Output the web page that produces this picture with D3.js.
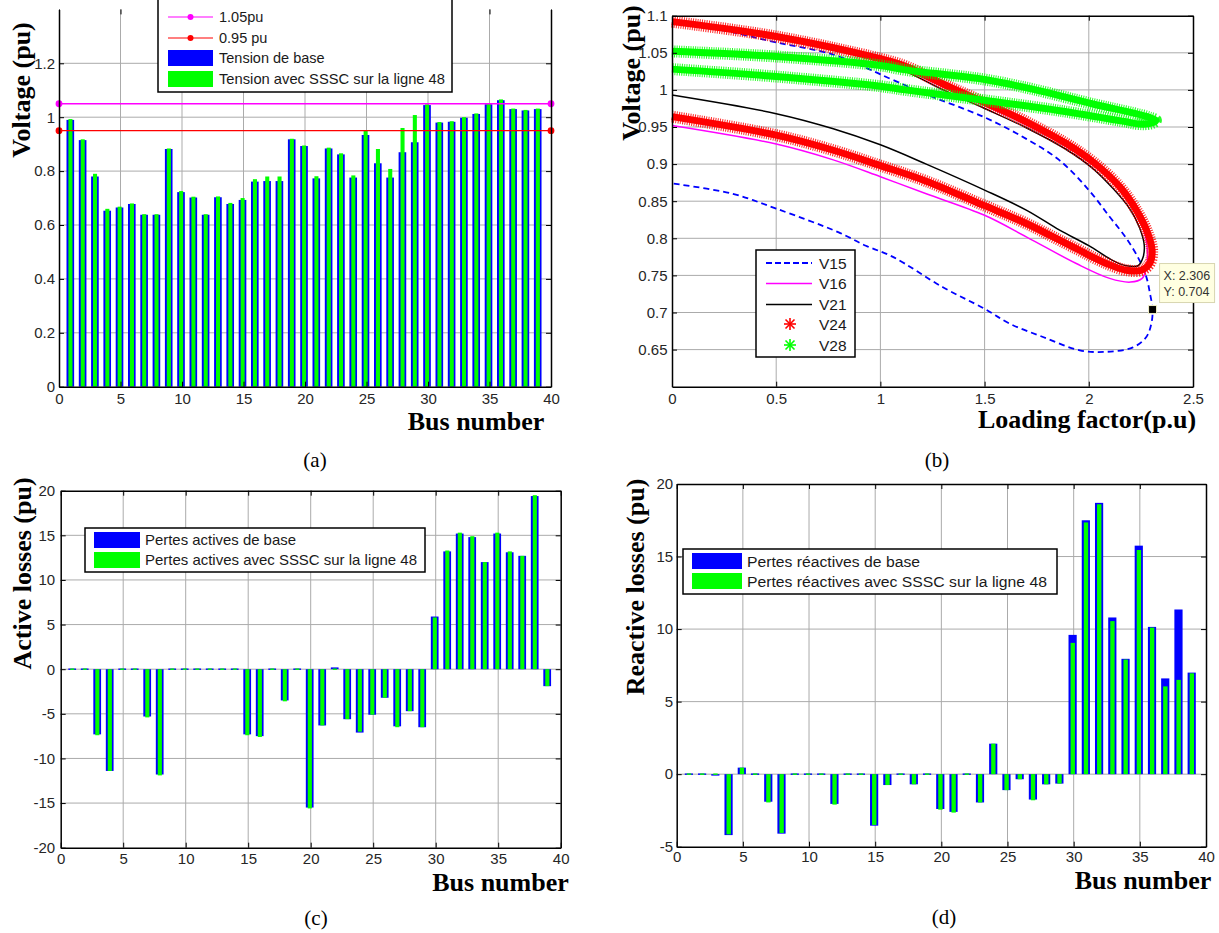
<!DOCTYPE html>
<html>
<head>
<meta charset="utf-8">
<script src="https://cdn.jsdelivr.net/npm/d3@7"></script>
<style>
  body { margin: 0; background: #fff; }
  svg { display: block; }
  text { font-family: "Liberation Sans", Arial, sans-serif; }
  .axlab { font-family: "Liberation Serif", "Times New Roman", serif; font-weight: bold; font-size: 26px; fill: #000; }
  .cap { font-family: "Liberation Serif", "Times New Roman", serif; font-size: 21px; fill: #000; }
</style>
</head>
<body>
<svg id="fig" width="1219" height="933"></svg>
<script>
// ---------- data ----------
const buses = [1,2,3,4,5,6,7,8,9,10,11,12,13,14,15,16,17,18,19,20,21,22,23,24,25,26,27,28,29,30,31,32,33,34,35,36,37,38,39];

// (a) bus voltages (pu)
const voltageBase = [0.99,0.915,0.78,0.653,0.665,0.678,0.638,0.638,0.882,0.722,0.702,0.638,0.703,0.678,0.693,0.761,0.763,0.763,0.918,0.893,0.773,0.884,0.862,0.776,0.934,0.829,0.776,0.87,0.907,1.045,0.98,0.983,0.998,1.012,1.048,1.063,1.03,1.025,1.03];
const voltageSSSC = [0.993,0.918,0.79,0.66,0.668,0.68,0.64,0.64,0.884,0.726,0.705,0.64,0.706,0.682,0.70,0.77,0.78,0.78,0.92,0.895,0.781,0.887,0.866,0.784,0.952,0.882,0.808,0.96,1.008,1.048,0.982,0.985,1.0,1.014,1.05,1.066,1.032,1.027,1.032];
const limitHigh = 1.05;
const limitLow = 0.95;

// (c) active losses (pu)
const activeBase = [0,0.15,-7.3,-11.4,0,0.05,-5.3,-11.8,0.05,0.05,0.15,-0.15,0.1,0.1,-7.3,-7.5,0.15,-3.5,0,-15.5,-6.3,0.2,-5.6,-7.1,-5.1,-3.2,-6.4,-4.7,-6.5,5.9,13.2,15.2,14.8,12.0,15.2,13.1,12.7,19.4,-1.9];
const activeSSSC = [0.05,0.1,-7.4,-11.4,0.05,0.05,-5.4,-11.9,0.05,0.05,0.1,-0.1,0.1,0.05,-7.4,-7.6,0.1,-3.6,0.05,-15.6,-6.3,0.1,-5.6,-7.0,-5.1,-3.2,-6.5,-4.7,-6.5,5.8,13.3,15.3,14.9,12.0,15.3,13.2,12.7,19.5,-1.9];

// (d) reactive losses (pu)
const reactiveBase = [0,0,-0.1,-4.2,0.45,0,-1.9,-4.1,0,0,0,-2.05,0,0,-3.55,-0.75,0,-0.7,0,-2.4,-2.6,0,-1.95,2.1,-1.1,-0.35,-1.75,-0.7,-0.65,9.6,17.5,18.7,10.8,7.95,15.75,10.15,6.6,11.35,7.0];
const reactiveSSSC = [0,0,-0.05,-4.15,0.45,0,-1.95,-4.05,0,0,0,-2.1,0,0,-3.5,-0.75,0,-0.7,0,-2.45,-2.65,0,-1.95,2.1,-1.1,-0.35,-1.8,-0.7,-0.65,9.05,17.35,18.6,10.55,7.9,15.45,10.1,6.05,6.5,6.95];

// (b) PV curves: [loading factor, voltage]
const curveV15 = [[0,1.091],[0.25,1.08],[0.5,1.064],[0.77,1.048],[0.93,1.03],[1.0,1.021],[1.12,1.006],[1.21,0.995],[1.5,0.963],[1.7,0.934],[1.86,0.905],[2.0,0.865],[2.1,0.829],[2.18,0.8],[2.244,0.77],[2.276,0.748],[2.294,0.725],[2.306,0.704],[2.3,0.685],[2.276,0.667],[2.212,0.653],[2.085,0.647],[1.957,0.649],[1.78,0.667],[1.62,0.685],[1.5,0.705],[1.3,0.734],[1.06,0.775],[0.93,0.79],[0.8,0.808],[0.5,0.84],[0.29,0.86],[0,0.874]];
const curveV16 = [[0,1.092],[0.5,1.072],[1.0,1.041],[1.3,1.004],[1.5,0.979],[1.7,0.953],[1.89,0.924],[2.02,0.899],[2.15,0.865],[2.23,0.833],[2.27,0.805],[2.282,0.78],[2.276,0.76],[2.256,0.746],[2.2,0.741],[2.1,0.746],[1.94,0.766],[1.7,0.802],[1.5,0.831],[1.22,0.86],[1.0,0.883],[0.77,0.906],[0.5,0.927],[0,0.952]];
const curveV21 = [[0,1.091],[0.5,1.071],[1.0,1.04],[1.3,1.0],[1.5,0.975],[1.7,0.949],[1.89,0.92],[2.02,0.894],[2.12,0.866],[2.196,0.84],[2.244,0.814],[2.266,0.791],[2.26,0.774],[2.236,0.763],[2.18,0.763],[2.116,0.77],[2.0,0.79],[1.86,0.811],[1.7,0.838],[1.5,0.865],[1.22,0.9],[1.0,0.926],[0.77,0.948],[0.5,0.968],[0,0.993]];
const curveV24 = [[0,1.092],[0.5,1.072],[1.0,1.042],[1.12,1.032],[1.3,1.008],[1.5,0.983],[1.7,0.957],[1.89,0.928],[2.02,0.903],[2.15,0.869],[2.228,0.838],[2.284,0.806],[2.304,0.783],[2.292,0.766],[2.252,0.757],[2.18,0.757],[2.085,0.766],[1.94,0.786],[1.7,0.82],[1.5,0.844],[1.22,0.877],[1.0,0.898],[0.77,0.919],[0.5,0.939],[0,0.964]];
const curveV28 = [[0,1.052],[0.5,1.045],[1.0,1.033],[1.12,1.027],[1.5,1.014],[1.73,1.001],[2.02,0.981],[2.21,0.969],[2.29,0.963],[2.322,0.959],[2.3,0.955],[2.24,0.954],[2.18,0.957],[1.86,0.972],[1.5,0.986],[1.12,1.0],[1.0,1.005],[0.5,1.018],[0,1.028]];
const dataTip = [2.306, 0.704];

const busTicks = [0,5,10,15,20,25,30,35,40];
const voltTicks = [0,0.2,0.4,0.6,0.8,1,1.2];
const activeTicks = [-20,-15,-10,-5,0,5,10,15,20];
const reactiveTicks = [-5,0,5,10,15,20];
const loadTicks = [0,0.5,1,1.5,2,2.5];
const pvTicks = [0.65,0.7,0.75,0.8,0.85,0.9,0.95,1,1.05,1.1];

// ---------- drawing ----------
const svg = d3.select("#fig");
svg.append("rect").attr("width",1219).attr("height",933).attr("fill","#fff");

const GRID = "#ababab";
const BLUE = "#0000ff", GREEN = "#00ff00";
const fmt = v => String(+v.toFixed(2));

function styleAxis(sel, fs) {
  sel.select(".domain").attr("stroke", "#000").attr("stroke-width", 1.5);
  sel.selectAll(".tick line").attr("stroke", "#000").attr("stroke-width", 1);
  sel.selectAll(".tick text").attr("font-size", fs).attr("fill", "#262626")
     .attr("font-family", "'Liberation Sans', Arial, sans-serif");
}

function frame(g, x, y, o) {
  const [x0, x1] = x.range(), [y0, y1] = y.range();
  const b = g.append("g").attr("transform", `translate(0,${y0})`)
    .call(d3.axisBottom(x).tickValues(o.xTicks).tickSizeInner(-5).tickSizeOuter(0).tickPadding(o.xPad).tickFormat(fmt));
  styleAxis(b, o.fs);
  const l = g.append("g").attr("transform", `translate(${x0},0)`)
    .call(d3.axisLeft(y).tickValues(o.yTicks).tickSizeInner(-5).tickSizeOuter(0).tickPadding(o.yPad).tickFormat(fmt));
  styleAxis(l, o.fs);
  const r = g.append("g").attr("transform", `translate(${x1},0)`)
    .call(d3.axisRight(y).tickValues(o.yTicks).tickSizeInner(-5).tickSizeOuter(0).tickFormat(""));
  styleAxis(r, o.fs);
  const t = g.append("g").attr("transform", `translate(0,${y1})`)
    .call(d3.axisTop(x).tickValues(o.xTicks).tickSizeInner(-5).tickSizeOuter(0).tickFormat(""));
  styleAxis(t, o.fs);
  if (o.noTop) t.select(".domain").remove();
}

function grid(g, x, y, xs, ys) {
  const [x0, x1] = x.range(), [y0, y1] = y.range();
  g.append("g").selectAll("line").data(xs).join("line")
    .attr("x1", d => x(d)).attr("x2", d => x(d)).attr("y1", y0).attr("y2", y1)
    .attr("stroke", GRID).attr("stroke-width", 1);
  g.append("g").selectAll("line").data(ys).join("line")
    .attr("y1", d => y(d)).attr("y2", d => y(d)).attr("x1", x0).attr("x2", x1)
    .attr("stroke", GRID).attr("stroke-width", 1);
}

function bars(g, x, y, values, color, width, offset) {
  const rows = buses.map((b, i) => ({ b, v: values[i] }));
  const w = x(width) - x(0);
  g.append("g").selectAll("rect").data(rows).join("rect")
    .attr("x", d => x(d.b + offset) - w / 2)
    .attr("width", w)
    .attr("y", d => {
      const h = Math.abs(y(d.v) - y(0));
      return h < 1.4 ? y(0) - 0.7 : Math.min(y(d.v), y(0));
    })
    .attr("height", d => Math.max(Math.abs(y(d.v) - y(0)), 1.4))
    .attr("fill", color);
}

function barPanel(o) {
  const g = svg.append("g");
  const x = d3.scaleLinear().domain([0, 40]).range([o.left, o.right]);
  const y = d3.scaleLinear().domain(o.yDomain).range([o.bottom, o.top]);
  grid(g, x, y, busTicks.slice(1, -1), o.grid);
  bars(g, x, y, o.base, BLUE, 0.62, -0.08);
  bars(g, x, y, o.alt, GREEN, 0.33, -0.07);
  if (o.extra) o.extra(g, x, y);
  frame(g, x, y, { xTicks: busTicks, yTicks: o.yTicks, xPad: o.xPad, yPad: o.yPad, fs: 15, noTop: o.noTop });
  return { g, x, y };
}

function swatchLegend(g, box, items, fs) {
  g.append("rect").attr("x", box.x).attr("y", box.y).attr("width", box.w).attr("height", box.h)
    .attr("fill", "#fff").attr("stroke", "#000").attr("stroke-width", 1.5);
  items.forEach(it => {
    if (it.kind === "rect") {
      g.append("rect").attr("x", box.sx).attr("y", it.y - 8).attr("width", box.sw).attr("height", 16).attr("fill", it.color);
    } else {
      g.append("line").attr("x1", box.sx).attr("x2", box.sx + box.sw).attr("y1", it.y).attr("y2", it.y)
        .attr("stroke", it.color).attr("stroke-width", 1.2);
      g.append("circle").attr("cx", box.sx + box.sw / 2).attr("cy", it.y).attr("r", 3).attr("fill", it.color);
    }
    const t = g.append("text").attr("x", box.tx).attr("y", it.y + fs * 0.36).attr("font-size", fs).attr("fill", "#1a1a1a").text(it.label);
    if (it.len) t.attr("textLength", it.len).attr("lengthAdjust", "spacingAndGlyphs");
  });
}

// ----- (a) voltages -----
const pa = barPanel({
  left: 59, right: 551, top: 9.4, bottom: 386.7, yDomain: [0, 1.4],
  yTicks: voltTicks, grid: [0.2, 0.4, 0.6, 0.8, 1, 1.2],
  base: voltageBase, alt: voltageSSSC, xPad: 7, yPad: 4, noTop: true,
  extra: (g, x, y) => {
    [[limitHigh, "#ff00ff"], [limitLow, "#ff0000"]].forEach(([v, c]) => {
      g.append("line").attr("x1", x(0)).attr("x2", x(40)).attr("y1", y(v)).attr("y2", y(v))
        .attr("stroke", c).attr("stroke-width", 1.3);
      g.selectAll(null).data([0, 40]).join("circle")
        .attr("cx", d => x(d)).attr("cy", y(v)).attr("r", 3.4).attr("fill", c);
    });
  }
});
swatchLegend(pa.g, { x: 158, y: -3, w: 294, h: 95, sx: 168, sw: 45, tx: 219 }, [
  { kind: "line", color: "#ff00ff", y: 17, label: "1.05pu" },
  { kind: "line", color: "#ff0000", y: 38, label: "0.95 pu" },
  { kind: "rect", color: BLUE, y: 58, label: "Tension de base" },
  { kind: "rect", color: GREEN, y: 79, label: "Tension avec SSSC sur la ligne 48", len: 226 }
], 14.5);
svg.append("text").attr("class", "axlab").attr("transform", "translate(29.5,90) rotate(-90)").attr("text-anchor", "middle").text("Voltage (pu)");
svg.append("text").attr("class", "axlab").attr("x", 476).attr("y", 430).attr("text-anchor", "middle").text("Bus number");
svg.append("text").attr("class", "cap").attr("x", 315).attr("y", 467).attr("text-anchor", "middle").text("(a)");

// ----- (c) active losses -----
const pc = barPanel({
  left: 60.7, right: 560.7, top: 490.7, bottom: 847.7, yDomain: [-20, 20],
  yTicks: activeTicks, grid: [-15, -10, -5, 0, 5, 10, 15],
  base: activeBase, alt: activeSSSC, xPad: 6, yPad: 5.5
});
swatchLegend(pc.g, { x: 85, y: 528, w: 340, h: 44, sx: 94, sw: 46, tx: 145 }, [
  { kind: "rect", color: BLUE, y: 540, label: "Pertes actives de base", len: 151 },
  { kind: "rect", color: GREEN, y: 560, label: "Pertes actives avec SSSC sur la ligne 48", len: 272 }
], 15);
svg.append("text").attr("class", "axlab").attr("transform", "translate(30.7,573.5) rotate(-90)").attr("text-anchor", "middle").text("Active losses (pu)");
svg.append("text").attr("class", "axlab").attr("x", 500.5).attr("y", 891).attr("text-anchor", "middle").text("Bus number");
svg.append("text").attr("class", "cap").attr("x", 316).attr("y", 925).attr("text-anchor", "middle").text("(c)");

// ----- (d) reactive losses -----
const pd = barPanel({
  left: 676.7, right: 1206, top: 484, bottom: 846.7, yDomain: [-5, 20],
  yTicks: reactiveTicks, grid: [0, 5, 10, 15],
  base: reactiveBase, alt: reactiveSSSC, xPad: 4.5, yPad: 3.5
});
swatchLegend(pd.g, { x: 683, y: 549, w: 374, h: 45, sx: 692, sw: 50, tx: 747 }, [
  { kind: "rect", color: BLUE, y: 561, label: "Pertes réactives de base", len: 173 },
  { kind: "rect", color: GREEN, y: 581, label: "Pertes réactives avec SSSC sur la ligne 48", len: 300 }
], 15.5);
svg.append("text").attr("class", "axlab").attr("transform", "translate(644,587) rotate(-90)").attr("text-anchor", "middle").text("Reactive losses (pu)");
svg.append("text").attr("class", "axlab").attr("x", 1143).attr("y", 889).attr("text-anchor", "middle").text("Bus number");
svg.append("text").attr("class", "cap").attr("x", 944).attr("y", 924).attr("text-anchor", "middle").text("(d)");

// ----- (b) PV curves -----
const gb = svg.append("g");
const xB = d3.scaleLinear().domain([0, 2.5]).range([672, 1193]);
const yB = d3.scaleLinear().domain([0.6, 1.1]).range([386.7, 15.7]);
grid(gb, xB, yB, [0.5, 1, 1.5, 2], pvTicks.slice(0, -1));

const pv = d3.line().x(d => xB(d[0])).y(d => yB(d[1])).curve(d3.curveCatmullRom.alpha(0.5));

function thinCurve(data, color, dash) {
  gb.append("path").attr("d", pv(data)).attr("fill", "none").attr("stroke", color)
    .attr("stroke-width", dash ? 1.8 : 1.5).attr("stroke-dasharray", dash || null);
}
// star-marker series drawn as a dense hairy band
function starCurve(data, color) {
  const d = pv(data);
  gb.append("path").attr("d", d).attr("fill", "none").attr("stroke", color)
    .attr("stroke-width", 12).attr("stroke-dasharray", "1 1.3").attr("opacity", 0.85);
  gb.append("path").attr("d", d).attr("fill", "none").attr("stroke", color).attr("stroke-width", 7);
}
thinCurve(curveV15, BLUE, "6 4");
thinCurve(curveV16, "#ff00ff");
thinCurve(curveV21, "#000");
starCurve(curveV24, "#ff0000");
starCurve(curveV28, GREEN);

frame(gb, xB, yB, { xTicks: loadTicks, yTicks: pvTicks, xPad: 7, yPad: 4.5, fs: 15 });

// data tip on V15 nose
const tipX = xB(dataTip[0]), tipY = yB(dataTip[1]);
gb.append("rect").attr("x", tipX - 4).attr("y", tipY - 4).attr("width", 8).attr("height", 8)
  .attr("fill", "#000").attr("stroke", "#f2f0c8").attr("stroke-width", 1);
const tip = gb.append("g");
tip.append("rect").attr("x", tipX + 7).attr("y", tipY - 46).attr("width", 55).attr("height", 39)
  .attr("fill", "#ffffe1").attr("stroke", "#d8d6b0").attr("stroke-width", 1);
tip.append("text").attr("x", tipX + 11).attr("y", tipY - 30).attr("font-size", 12.5).attr("fill", "#333").text("X: " + dataTip[0].toFixed(3));
tip.append("text").attr("x", tipX + 11).attr("y", tipY - 14).attr("font-size", 12.5).attr("fill", "#333").text("Y: " + dataTip[1].toFixed(3));

// legend (b)
const lg = gb.append("g");
lg.append("rect").attr("x", 756).attr("y", 250).attr("width", 99).attr("height", 107)
  .attr("fill", "#fff").attr("stroke", "#000").attr("stroke-width", 1.5);
const legB = [
  { label: "V15", color: BLUE, kind: "dash", y: 263 },
  { label: "V16", color: "#ff00ff", kind: "line", y: 283.5 },
  { label: "V21", color: "#000", kind: "line", y: 304.5 },
  { label: "V24", color: "#ff0000", kind: "star", y: 324 },
  { label: "V28", color: GREEN, kind: "star", y: 345 }
];
legB.forEach(it => {
  if (it.kind === "star") {
    const cx = 790, r = 6;
    [[0, r], [r, 0], [r * 0.75, r * 0.75], [r * 0.75, -r * 0.75]].forEach(([dx, dy]) => {
      lg.append("line").attr("x1", cx - dx).attr("x2", cx + dx).attr("y1", it.y - dy).attr("y2", it.y + dy)
        .attr("stroke", it.color).attr("stroke-width", 1.6);
    });
  } else {
    lg.append("line").attr("x1", 766).attr("x2", 812).attr("y1", it.y).attr("y2", it.y)
      .attr("stroke", it.color).attr("stroke-width", it.kind === "dash" ? 1.8 : 1.5)
      .attr("stroke-dasharray", it.kind === "dash" ? "6 3" : null);
  }
  lg.append("text").attr("x", 819).attr("y", it.y + 5.5).attr("font-size", 15.5).attr("fill", "#1a1a1a").text(it.label);
});

svg.append("text").attr("class", "axlab").attr("transform", "translate(639.5,73) rotate(-90)").attr("text-anchor", "middle").text("Voltage (pu)");
svg.append("text").attr("class", "axlab").attr("x", 1087).attr("y", 428).attr("text-anchor", "middle").text("Loading factor(p.u)");
svg.append("text").attr("class", "cap").attr("x", 937).attr("y", 467).attr("text-anchor", "middle").text("(b)");
</script>
</body>
</html>
